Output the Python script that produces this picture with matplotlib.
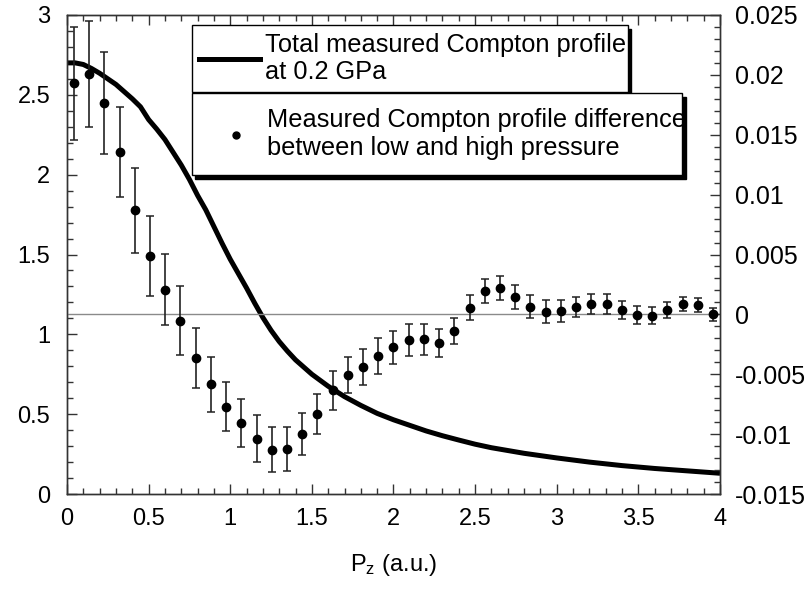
import numpy as np
import matplotlib
matplotlib.use('Agg')
import matplotlib.pyplot as plt
from matplotlib.ticker import MultipleLocator, FormatStrFormatter
from matplotlib.lines import Line2D

plt.rcParams['font.family'] = ['Liberation Sans', 'DejaVu Sans']
plt.rcParams['mathtext.fontset'] = 'custom'
plt.rcParams['mathtext.rm'] = 'Liberation Sans'

# total measured Compton profile at 0.2 GPa (left axis)
pz_total = [0.0, 0.05, 0.1, 0.15, 0.2, 0.25, 0.3, 0.35, 0.4, 0.45, 0.5, 0.55,
            0.6, 0.65, 0.7, 0.75, 0.8, 0.85, 0.9, 0.95, 1.0, 1.05, 1.1, 1.15,
            1.2, 1.25, 1.3, 1.35, 1.4, 1.45, 1.5, 1.6, 1.7, 1.8, 1.9, 2.0, 2.1,
            2.2, 2.3, 2.4, 2.5, 2.6, 2.8, 3.0, 3.2, 3.4, 3.6, 3.8, 4.0]
j_total = [2.70, 2.70, 2.69, 2.665, 2.635, 2.60, 2.565, 2.52, 2.475, 2.425, 2.345,
           2.285, 2.22, 2.14, 2.06, 1.97, 1.87, 1.78, 1.675, 1.57, 1.47, 1.38,
           1.29, 1.195, 1.105, 1.025, 0.955, 0.895, 0.84, 0.795, 0.75, 0.675,
           0.61, 0.555, 0.505, 0.465, 0.43, 0.395, 0.365, 0.338, 0.312, 0.29,
           0.255, 0.226, 0.20, 0.178, 0.16, 0.145, 0.13]

# profile difference between low and high pressure (right axis)
pz_diff = [0.043, 0.136, 0.229, 0.323, 0.416, 0.509, 0.602, 0.695, 0.789, 0.882,
           0.975, 1.068, 1.161, 1.255, 1.348, 1.441, 1.534, 1.627, 1.721, 1.814,
           1.907, 2.000, 2.093, 2.187, 2.280, 2.373, 2.466, 2.559, 2.653, 2.746,
           2.839, 2.932, 3.025, 3.118, 3.212, 3.305, 3.398, 3.491, 3.584, 3.678,
           3.771, 3.864, 3.957]
dj = [0.01929, 0.02007, 0.01761, 0.01357, 0.00871, 0.00487, 0.00207, -0.00053,
      -0.00363, -0.00584, -0.00771, -0.00904, -0.01039, -0.01132, -0.01127,
      -0.01001, -0.00833, -0.00633, -0.00507, -0.00437, -0.00348, -0.00276,
      -0.00215, -0.00208, -0.00237, -0.00140, 0.00056, 0.00197, 0.00217, 0.00147,
      0.00064, 0.00023, 0.00028, 0.00064, 0.00084, 0.00084, 0.00036, -0.00005,
      -0.00011, 0.00036, 0.00087, 0.00077, 0.00000]
dj_err = [0.0047, 0.0044, 0.00426, 0.00376, 0.00355, 0.00334, 0.00297, 0.00286,
          0.00252, 0.00228, 0.00203, 0.00200, 0.00195, 0.00188, 0.00184, 0.00175,
          0.00167, 0.00164, 0.00153, 0.00149, 0.00148, 0.00139, 0.00134, 0.00129,
          0.00119, 0.00110, 0.00103, 0.00102, 0.00100, 0.00100, 0.00094, 0.00094,
          0.00088, 0.00084, 0.00084, 0.00084, 0.00078, 0.00075, 0.00073, 0.00067,
          0.00060, 0.00058, 0.00053]

label_total = 'Total measured Compton profile\nat 0.2 GPa'
label_diff = 'Measured Compton profile difference\nbetween low and high pressure'

fig = plt.figure(figsize=(8.11, 5.92), dpi=100)
ax = fig.add_axes([0.0826, 0.1655, 0.8052, 0.8092])
ax2 = ax.twinx()

ax.plot(pz_total, j_total, color='k', lw=3.6, solid_capstyle='butt',
        solid_joinstyle='round')
ax2.axhline(0, color='#8a8a8a', lw=1.0, zorder=1)
ax2.errorbar(pz_diff, dj, yerr=dj_err, fmt='o', color='k', ms=6,
             ecolor='#222222', elinewidth=1.2, capsize=3.2, capthick=1.1)

ax.set_xlim(0, 4)
ax.set_ylim(0, 3)
ax2.set_ylim(-0.015, 0.025)

ax.xaxis.set_major_locator(MultipleLocator(0.5))
ax.xaxis.set_minor_locator(MultipleLocator(0.1))
ax.yaxis.set_major_locator(MultipleLocator(0.5))
ax.yaxis.set_minor_locator(MultipleLocator(0.1))
ax2.yaxis.set_major_locator(MultipleLocator(0.005))
ax2.yaxis.set_minor_locator(MultipleLocator(0.001))
ax.xaxis.set_major_formatter(FormatStrFormatter('%g'))
ax.yaxis.set_major_formatter(FormatStrFormatter('%g'))
ax2.yaxis.set_major_formatter(FormatStrFormatter('%g'))

tc = '#333333'
ax.tick_params(axis='x', which='both', direction='in', top=True, color=tc,
               labelsize=17, pad=10)
ax.tick_params(axis='y', which='both', direction='in', left=True, right=False,
               color=tc, labelsize=17, pad=12)
ax2.tick_params(axis='y', which='both', direction='in', color=tc,
                labelsize=18, pad=11)
for a in (ax, ax2):
    a.tick_params(which='major', length=7, width=1)
    a.tick_params(which='minor', length=4, width=1)
    for s in a.spines.values():
        s.set_color(tc)
        s.set_linewidth(1)

ax.set_xlabel('P$\\mathregular{_z}$ (a.u.)', fontsize=17, labelpad=16)

# two stacked legend boxes with hard black shadow
h1 = Line2D([], [], color='k', lw=3.6)
h2 = Line2D([], [], color='k', marker='o', ls='none', ms=5)
shadow = {'ox': 2.5, 'oy': -2.5, 'color': 'k', 'alpha': 1}
leg1 = ax2.legend([h1], [label_total], loc='upper left',
                  bbox_to_anchor=(0.191, 0.837, 0.668, 0.142), mode='expand',
                  borderaxespad=0, fontsize=18.3, fancybox=False, shadow=shadow,
                  framealpha=1, edgecolor='k', borderpad=0.3, handlelength=2.4,
                  handletextpad=0.2)
leg1.get_frame().set_linewidth(1)
ax2.add_artist(leg1)
leg2 = ax2.legend([h2], [label_diff], loc='upper left',
                  bbox_to_anchor=(0.191, 0.672, 0.751, 0.165), mode='expand',
                  borderaxespad=0, fontsize=18.3, fancybox=False, shadow=shadow,
                  framealpha=1, edgecolor='k', borderpad=0.6, handlelength=2.3,
                  handletextpad=0.05)
leg2.get_frame().set_linewidth(1)

fig.savefig('out.png', dpi=100)
